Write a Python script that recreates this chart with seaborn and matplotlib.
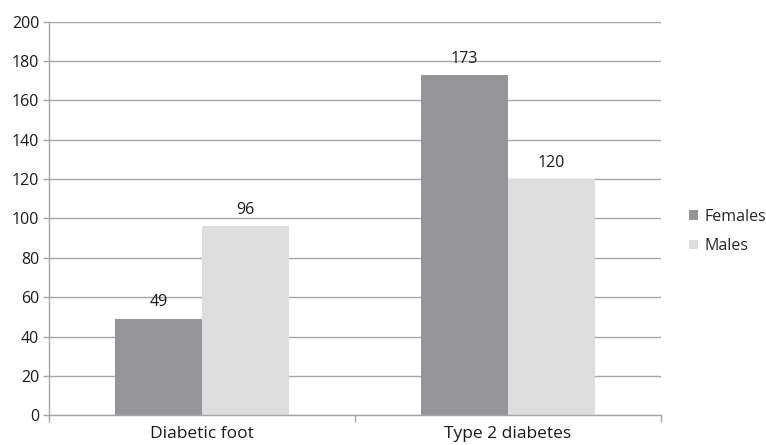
import matplotlib
matplotlib.use("Agg")
import matplotlib.pyplot as plt
import seaborn as sns
import pandas as pd

categories = ["Diabetic foot", "Type 2 diabetes"]
sexes = ["Females", "Males"]
females = [49, 173]
males = [96, 120]
y_ticks = [0, 20, 40, 60, 80, 100, 120, 140, 160, 180, 200]

df = pd.DataFrame({
    "Condition": categories * 2,
    "Sex": [sexes[0]] * len(categories) + [sexes[1]] * len(categories),
    "Count": females + males,
})

sns.set_theme(style="white")
plt.rcParams["font.family"] = ["Open Sans", "DejaVu Sans"]

palette = {"Females": "#939598", "Males": "#dcdddf"}
grid_col = "#a6a6a6"
txt_col = "#1a1a1a"

fig = plt.figure(figsize=(7.66, 4.45), dpi=100)
ax = fig.add_axes([0.064, 0.067, 0.799, 0.884])

sns.barplot(data=df, x="Condition", y="Count", hue="Sex", order=categories,
            hue_order=sexes, palette=palette, width=0.57, gap=0,
            saturation=1, ax=ax, edgecolor="none", linewidth=0)

for cont in ax.containers:
    ax.bar_label(cont, fmt="%d", padding=6, fontsize=11.5, color=txt_col)

ax.set_ylim(0, 200)
ax.set_xlim(-0.5, 1.5)
ax.set_yticks(y_ticks)
ax.set_yticklabels([str(t) for t in y_ticks], fontsize=11.5, color=txt_col)
ax.tick_params(axis="x", labelsize=12.5, labelcolor=txt_col, length=0, pad=8)
ax.tick_params(axis="y", length=4, width=1, color=grid_col, pad=3, left=True)

# category boundary ticks along the base
ax.set_xticks([-0.5, 0.5, 1.5], minor=True)
ax.tick_params(axis="x", which="minor", length=5, width=1, color=grid_col,
               bottom=True, direction="out")

ax.yaxis.grid(True, color=grid_col, linewidth=1)
ax.set_axisbelow(True)
for side in ["top", "right"]:
    ax.spines[side].set_visible(False)
for side in ["left", "bottom"]:
    ax.spines[side].set_color(grid_col)
    ax.spines[side].set_linewidth(1)

ax.set_xlabel("")
ax.set_ylabel("")

ax.legend(loc="center left", bbox_to_anchor=(1.035, 0.467), frameon=False,
          fontsize=11.5, handlelength=0.55, handleheight=0.55,
          handletextpad=0.45, labelspacing=0.85, borderaxespad=0)

fig.savefig("out.png", dpi=100)
